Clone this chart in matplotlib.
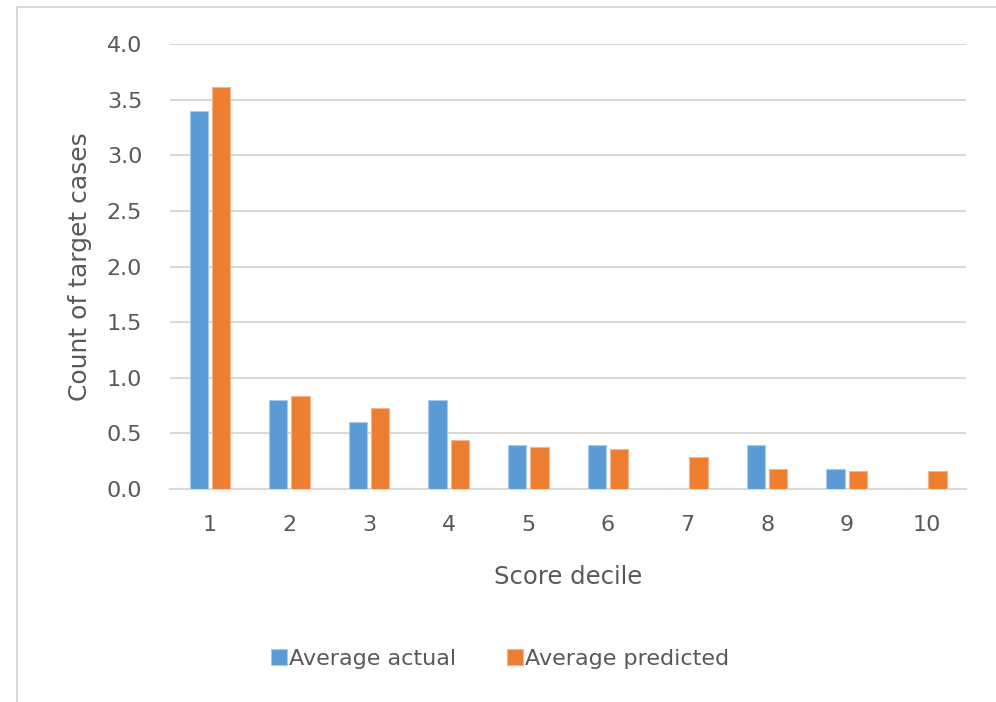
import matplotlib
matplotlib.use('Agg')
import matplotlib.pyplot as plt
import numpy as np
from matplotlib.lines import Line2D

# Decile summary: average actual vs. predicted target counts
deciles = ['1', '2', '3', '4', '5', '6', '7', '8', '9', '10']
avg_actual = [3.40, 0.80, 0.60, 0.80, 0.40, 0.40, 0.0, 0.40, 0.18, 0.0]
avg_predicted = [3.61, 0.84, 0.73, 0.44, 0.38, 0.36, 0.29, 0.18, 0.16, 0.16]

text_col = '#595959'
grid_col = '#d9d9d9'
blue = '#5b9bd5'
orange = '#ed7d31'

plt.rcParams['font.family'] = 'DejaVu Sans'
plt.rcParams['font.size'] = 16

fig = plt.figure(figsize=(9.96, 7.02), dpi=100)
ax = fig.add_axes([0.1707, 0.3034, 0.7993, 0.6339])

x = np.arange(len(deciles))
w = 0.23
gap = 0.05
ax.bar(x - (w + gap) / 2, avg_actual, width=w, color=blue,
       edgecolor='#a9c9ea', linewidth=0.8, label='Average actual', zorder=3)
ax.bar(x + (w + gap) / 2, avg_predicted, width=w, color=orange,
       edgecolor='#f5b48c', linewidth=0.8, label='Average predicted', zorder=3)

ax.set_xlim(-0.5, len(deciles) - 0.5)
ax.set_ylim(0, 4.0)
ax.set_yticks(np.arange(0, 4.01, 0.5))
ax.set_yticklabels([f'{v:.1f}' for v in np.arange(0, 4.01, 0.5)])
ax.set_xticks(x)
ax.set_xticklabels(deciles)

ax.grid(axis='y', color=grid_col, linewidth=1.5, zorder=0)
ax.set_axisbelow(True)
for s in ['top', 'right', 'left']:
    ax.spines[s].set_visible(False)
ax.spines['bottom'].set_color(grid_col)
ax.spines['bottom'].set_linewidth(1.5)

ax.tick_params(axis='both', length=0, colors=text_col, labelsize=16)
ax.tick_params(axis='y', pad=20)
ax.tick_params(axis='x', pad=19)

ax.set_ylabel('Count of target cases', color=text_col, fontsize=18)
ax.yaxis.set_label_coords(-0.098, 0.5)
ax.set_xlabel('Score decile', color=text_col, fontsize=17.5)
ax.xaxis.set_label_coords(0.5, -0.17)

leg = fig.legend(loc='center', bbox_to_anchor=(0.502, 0.0613), ncol=2,
                 frameon=False, handlelength=0.7, handleheight=0.7,
                 handletextpad=0.1, columnspacing=2.3, fontsize=16)
for t in leg.get_texts():
    t.set_color(text_col)

# light chart-area border (left and top edges)
fig.add_artist(Line2D([17 / 996, 17 / 996], [0, 1 - 7 / 702],
                      transform=fig.transFigure, color='#d9d9d9', linewidth=1.5))
fig.add_artist(Line2D([17 / 996, 1], [1 - 7 / 702, 1 - 7 / 702],
                      transform=fig.transFigure, color='#d9d9d9', linewidth=1.5))

fig.savefig('out.png', dpi=100)
